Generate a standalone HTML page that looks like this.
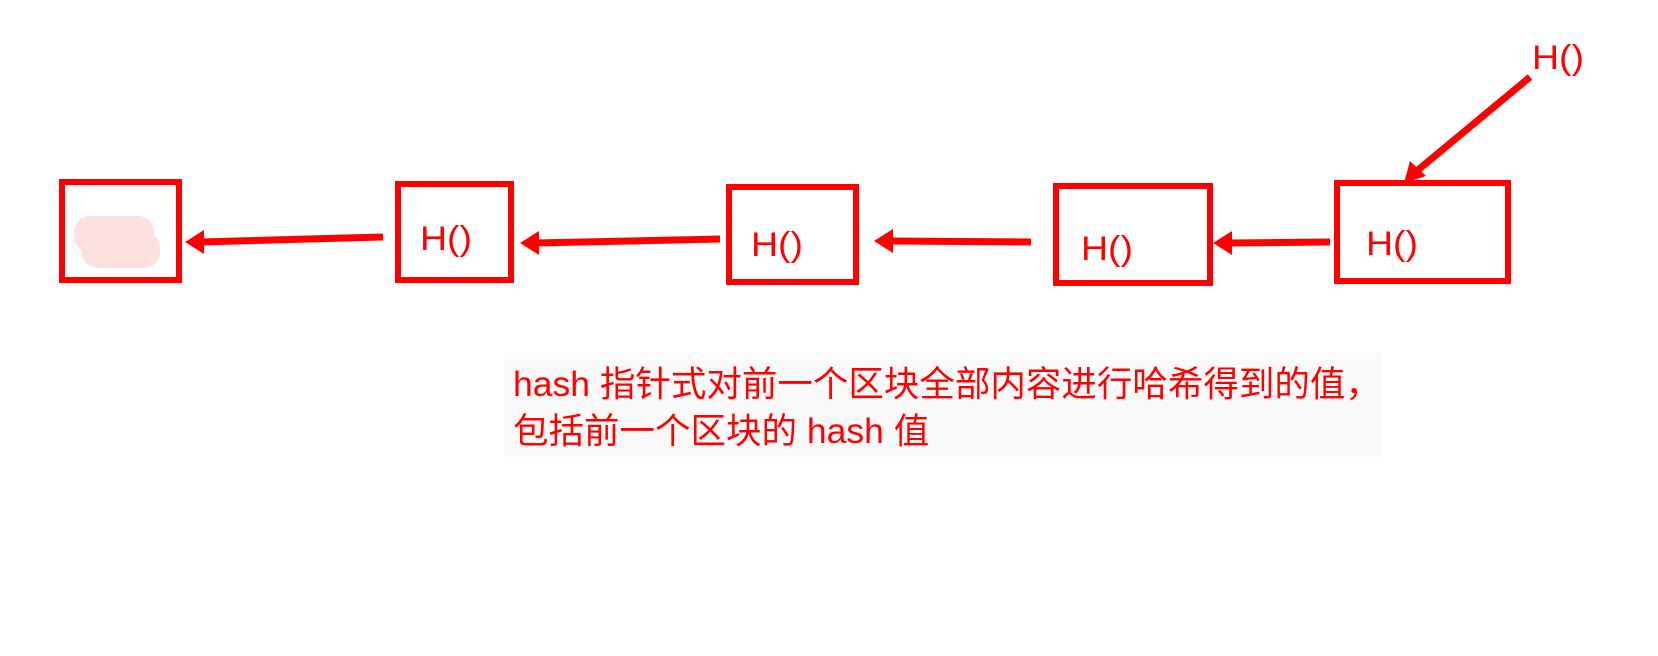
<!DOCTYPE html>
<html><head><meta charset="utf-8"><style>
html,body{margin:0;padding:0;background:#fff;width:1658px;height:656px;overflow:hidden}
</style></head><body>
<svg width="1658" height="656" xmlns="http://www.w3.org/2000/svg" style="position:absolute;left:0;top:0">
<g fill="none" stroke="#ff0000" stroke-width="6">
<rect x="62" y="182" width="117" height="98"/>
<rect x="398" y="184" width="113" height="96"/>
<rect x="729" y="187" width="127" height="95"/>
<rect x="1056" y="186" width="154" height="97"/>
<rect x="1337" y="183" width="171" height="98"/>
</g>
<g fill="#fde0e0">
<rect x="74" y="216" width="80" height="36" rx="16"/>
<rect x="82" y="232" width="78" height="36" rx="16"/>
</g>
<g stroke="#ff0000" stroke-width="7" fill="none">
<line x1="383" y1="237" x2="200" y2="242"/>
<line x1="720" y1="239" x2="535" y2="243"/>
<line x1="1031" y1="242" x2="890" y2="241"/>
<line x1="1330" y1="242" x2="1228" y2="243"/>
<line x1="1530" y1="77" x2="1418" y2="170"/>
</g>
<g fill="#ff0000">
<polygon points="185,242 204,230 204,254"/>
<polygon points="520,243 539,231 539,255"/>
<polygon points="874,241 893,229 893,253"/>
<polygon points="1213,243 1232,231 1232,255"/>
<polygon points="1404,183 1410,161 1426,176"/>
</g>
<g fill="#ff0000" font-family="Liberation Sans, sans-serif" font-size="34">
<text x="420" y="250" textLength="52" lengthAdjust="spacingAndGlyphs">H()</text>
<text x="751" y="256" textLength="52" lengthAdjust="spacingAndGlyphs">H()</text>
<text x="1081" y="260" textLength="52" lengthAdjust="spacingAndGlyphs">H()</text>
<text x="1366" y="255" textLength="52" lengthAdjust="spacingAndGlyphs">H()</text>
<text x="1532" y="69" textLength="52" lengthAdjust="spacingAndGlyphs">H()</text>
</g>
<rect x="504" y="353" width="878" height="104" fill="#fafafa"/>
<g fill="#ff0000" font-family="Liberation Sans, Noto Sans CJK SC, sans-serif" font-size="35.5">
<text x="513" y="396">hash 指针式对前一个区块全部内容进行哈希得到的值，</text>
<text x="513" y="443">包括前一个区块的 hash 值</text>
</g>
</svg>
</body></html>
